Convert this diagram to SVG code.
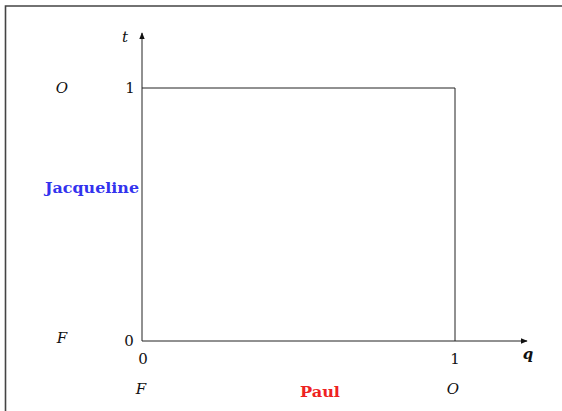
<svg xmlns="http://www.w3.org/2000/svg" width="562" height="411" viewBox="0 0 562 411">
<style>
.ln{stroke:#222;stroke-width:1;fill:none}
.m{font-family:'DejaVu Serif','Liberation Serif',serif;font-size:15px;fill:#111}
.i{font-style:italic}
.b{font-weight:bold}
</style>
<defs>
<marker id="ah" viewBox="0 0 10 10" refX="9" refY="5" markerWidth="7" markerHeight="7" orient="auto" markerUnits="userSpaceOnUse">
<path d="M0,1 L10,5 L0,9 z" fill="#111"/>
</marker>
</defs>
<rect width="562" height="411" fill="#fff"/>
<path d="M5.5,411 V6 H562" stroke="#444" stroke-width="1.6" fill="none"/>
<g id="connectors">
<line class="ln" x1="142" y1="341" x2="142" y2="33" marker-end="url(#ah)"/>
<line class="ln" x1="142" y1="341" x2="527" y2="341" marker-end="url(#ah)"/>
<polyline class="ln" points="142,88 455,88 455,341"/>
</g>
<g id="labels">
<text class="m i" x="125" y="42" text-anchor="middle">t</text>
<text class="m i" x="62" y="93" text-anchor="middle">O</text>
<text class="m" x="130" y="93" text-anchor="middle">1</text>
<text class="m b" x="45" y="193" textLength="94" lengthAdjust="spacingAndGlyphs" style="fill:#3333ee">Jacqueline</text>
<text class="m i" x="62" y="343" text-anchor="middle">F</text>
<text class="m" x="129" y="346" text-anchor="middle">0</text>
<text class="m" x="143" y="364" text-anchor="middle">0</text>
<text class="m" x="455" y="364" text-anchor="middle">1</text>
<text class="m i b" x="528" y="359" text-anchor="middle">q</text>
<text class="m i" x="141" y="394" text-anchor="middle">F</text>
<text class="m b" x="300" y="397" textLength="40" lengthAdjust="spacingAndGlyphs" style="fill:#ee2222">Paul</text>
<text class="m i" x="453" y="394" text-anchor="middle">O</text>
</g>
</svg>
